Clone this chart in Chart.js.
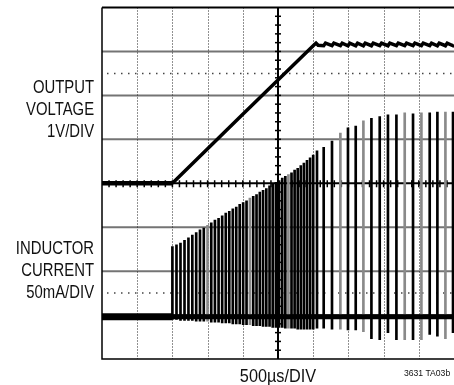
<!DOCTYPE html>
<html>
<head>
<meta charset="utf-8">
<script src="https://cdn.jsdelivr.net/npm/chart.js@4/dist/chart.umd.min.js"></script>
<style>
  html, body { margin: 0; padding: 0; background: #fff; }
  #wrap { position: relative; width: 454px; height: 385px; overflow: hidden; }
  canvas { position: absolute; left: 0; top: 0; }
  .lbl { position: absolute; font-family: "Liberation Sans", Arial, sans-serif; color: #111;
         white-space: nowrap; }
  .side { right: 360px; font-size: 17.5px; line-height: 22px; text-align: right;
          transform: scaleX(0.85); transform-origin: right center; }
</style>
</head>
<body>
<div id="wrap">
  <canvas id="c" width="454" height="385"></canvas>
  <div class="lbl side" style="top:76px;">OUTPUT<br>VOLTAGE<br>1V/DIV</div>
  <div class="lbl side" style="top:237.3px;">INDUCTOR<br>CURRENT<br>50mA/DIV</div>
  <div class="lbl" style="left:177.7px; width:200px; text-align:center; top:364.7px; font-size:18.3px; line-height:22px; transform:scaleX(0.89); transform-origin:center;">500µs/DIV</div>
  <div class="lbl" style="right:4px; top:367.2px; font-size:9.2px; line-height:12px; transform:scaleX(0.94); transform-origin:right center;">3631 TA03b</div>
</div>
<script>
// ---- data (time in µs, voltage in V, current in mA) ----
const voltTimes  = [0, 1000, 2000, 3000, 3040, 3070, 3149, 3175, 3267, 3293, 3386, 3412, 3494, 3520, 3604, 3630,
                    3713, 3739, 3827, 3853, 3945, 3971, 4062, 4088, 4182, 4208, 4300, 4326, 4418, 4444, 4537, 4563,
                    4655, 4681, 4764, 4790, 4878, 4904, 4986, 5000];
const voltValues = [0, 0, 1.57, 3.13, 3.19, 3.14, 3.13, 3.19, 3.13, 3.19, 3.13, 3.19, 3.13, 3.19, 3.13, 3.19,
                    3.13, 3.19, 3.13, 3.19, 3.13, 3.19, 3.13, 3.19, 3.13, 3.19, 3.13, 3.19, 3.13, 3.19, 3.13, 3.19,
                    3.13, 3.19, 3.13, 3.19, 3.13, 3.19, 3.13, 3.15];

const baseTimes  = [0, 1000, 5000];
const baseValues = [0, 0, 0];

const spikeTimes = [1000, 1058, 1115, 1172, 1228, 1283, 1338, 1392, 1446, 1499, 1552, 1604, 1656, 1707, 1758,
                    1808, 1858, 1907, 1956, 2005, 2053, 2101, 2148, 2195, 2242, 2288, 2334, 2380, 2425, 2470,
                    2515, 2560, 2604, 2648, 2692, 2736, 2780, 2824, 2868, 2912, 2956, 3000,
                    3054, 3149, 3267, 3386, 3494, 3604, 3713, 3827, 3945, 4062, 4182, 4300, 4418, 4537, 4655,
                    4764, 4878, 4986];
const spikePeaks = [80, 82, 84, 87, 90, 93, 96, 99, 101, 104, 107, 110, 112, 115, 118,
                    120, 123, 125, 128, 130, 132, 135, 137, 139, 142, 144, 146, 149, 151, 153,
                    155, 158, 160, 162, 164, 167, 169, 172, 175, 178, 181, 184,
                    189, 193, 200, 209, 215, 217, 223, 226, 228, 230, 230, 232, 231, 232, 232,
                    233, 233, 233];
const spikeValleys = [-3, -3, -4, -4, -4, -4, -5, -5, -5, -5, -6, -6, -6, -7, -7,
                      -7, -8, -8, -8, -9, -9, -9, -10, -10, -10, -11, -11, -11, -12, -12,
                      -12, -12, -13, -13, -13, -13, -14, -14, -14, -14, -14, -14,
                      -13, -13, -14, -14, -15, -15, -17, -25, -26, -18, -26, -26, -26, -26, -20,
                      -22, -25, -18];
const spikeGray = [3386, 3713, 4300, 4537, 4878, 1499, 2101, 2648];

// ---- oscilloscope graticule plugin ----
const graticule = {
  id: 'graticule',
  beforeDatasetsDraw(chart) {
    const ctx = chart.ctx, xs = chart.scales.x, ys = chart.scales.y;
    const a = chart.chartArea;
    const X = v => xs.getPixelForValue(v);   // v in µs
    const Y = d => ys.getPixelForValue(d);   // d in divisions (volts)
    ctx.save();
    ctx.strokeStyle = '#747474'; ctx.lineWidth = 2;
    for (let d = -3; d <= 3; d++) {
      if (d === 0) continue;
      ctx.beginPath(); ctx.moveTo(a.left, Y(d)); ctx.lineTo(a.right, Y(d)); ctx.stroke();
    }
    ctx.strokeStyle = '#444'; ctx.lineWidth = 1.5; ctx.setLineDash([1.5, 5.5]);
    [2.5, -2.5].forEach(d => { ctx.beginPath(); ctx.moveTo(a.left + 5, Y(d)); ctx.lineTo(a.right, Y(d)); ctx.stroke(); });
    ctx.strokeStyle = '#222'; ctx.lineWidth = 1; ctx.setLineDash([1, 2]);
    for (let k = 1; k <= 9; k++) {
      if (k === 5) continue;
      const x = Math.round(X(k * 500)) + 0.5;
      ctx.beginPath(); ctx.moveTo(x, a.top); ctx.lineTo(x, a.bottom); ctx.stroke();
    }
    ctx.setLineDash([]);
    ctx.strokeStyle = '#000'; ctx.lineWidth = 2;
    ctx.beginPath(); ctx.moveTo(a.left, Y(0)); ctx.lineTo(a.right, Y(0)); ctx.stroke();
    ctx.beginPath(); ctx.moveTo(X(2500), a.top); ctx.lineTo(X(2500), a.bottom); ctx.stroke();
    ctx.lineWidth = 1.5;
    for (let t = 100; t < 5000; t += 100) {
      ctx.beginPath(); ctx.moveTo(X(t), Y(0) - 3); ctx.lineTo(X(t), Y(0) + 4); ctx.stroke();
    }
    for (let d = -3.8; d < 4; d += 0.2) {
      ctx.beginPath(); ctx.moveTo(X(2500) - 3, Y(d)); ctx.lineTo(X(2500) + 3, Y(d)); ctx.stroke();
    }
    ctx.lineWidth = 2;
    ctx.beginPath(); ctx.moveTo(a.left, a.top); ctx.lineTo(a.right, a.top); ctx.stroke();
    ctx.lineWidth = 1.5;
    ctx.beginPath(); ctx.moveTo(a.left, a.top); ctx.lineTo(a.left, a.bottom); ctx.lineTo(a.right, a.bottom); ctx.stroke();
    ctx.restore();
  }
};

const ctx = document.getElementById('c').getContext('2d');
new Chart(ctx, {
  type: 'bar',
  data: {
    datasets: [
      {
        type: 'line', yAxisID: 'y',
        data: voltTimes.map((t, i) => ({ x: t, y: voltValues[i] })),
        borderColor: '#000', borderWidth: 3.5, pointRadius: 0, tension: 0, fill: false,
        segment: { borderWidth: c => c.p0DataIndex === 0 ? 4.5 : 3.5 }
      },
      {
        type: 'line', yAxisID: 'y2',
        data: baseTimes.map((t, i) => ({ x: t, y: baseValues[i] })),
        borderColor: '#000', borderWidth: 5, pointRadius: 0, fill: false,
        segment: { borderWidth: c => c.p0DataIndex === 0 ? 7 : 5 }
      },
      {
        type: 'bar', yAxisID: 'y2',
        data: spikeTimes.map((t, i) => ({ x: t, y: [spikeValleys[i], spikePeaks[i]] })),
        backgroundColor: spikeTimes.map(t => spikeGray.includes(t) ? '#8a8a8a' : '#000'),
        borderWidth: 0, barThickness: 2
      }
    ]
  },
  options: {
    responsive: false, animation: false,
    layout: { padding: { left: 102, top: 7.5, right: 0, bottom: 26 } },
    plugins: { legend: { display: false }, tooltip: { enabled: false } },
    scales: {
      x: { type: 'linear', min: 0, max: 5000, offset: false, display: false },
      y: { type: 'linear', min: -4, max: 4, display: false },
      y2: { type: 'linear', min: -48, max: 352, display: false }
    }
  },
  plugins: [graticule]
});
</script>
</body>
</html>
